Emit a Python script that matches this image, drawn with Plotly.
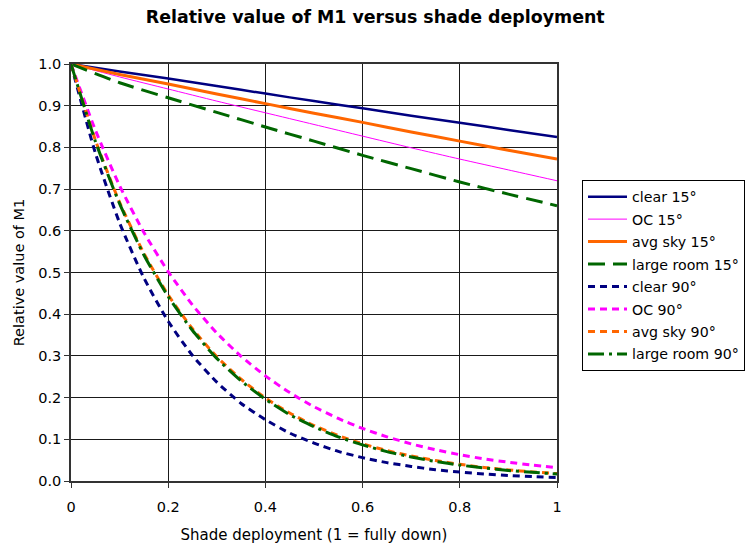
import plotly.graph_objects as go

# Shade deployment fractions
x_coarse = [0.0, 0.1, 0.2, 0.3, 0.4, 0.5, 0.6, 0.7, 0.8, 0.9, 1.0]
x_fine = [0.0, 0.05, 0.1, 0.15, 0.2, 0.25, 0.3, 0.35, 0.4, 0.45, 0.5,
          0.55, 0.6, 0.65, 0.7, 0.75, 0.8, 0.85, 0.9, 0.95, 1.0]

# 15 degree shades
clear_15 = [1.0, 0.982, 0.965, 0.947, 0.929, 0.911, 0.894, 0.876, 0.859, 0.842, 0.825]
oc_15 = [1.0, 0.969, 0.940, 0.911, 0.883, 0.855, 0.827, 0.799, 0.772, 0.746, 0.720]
avg_15 = [1.0, 0.975, 0.952, 0.928, 0.905, 0.882, 0.860, 0.837, 0.815, 0.793, 0.772]
large_15 = [1.0, 0.955, 0.919, 0.884, 0.849, 0.815, 0.781, 0.749, 0.717, 0.688, 0.660]

# 90 degree shades
clear_90 = [1.0, 0.787, 0.619, 0.487, 0.383, 0.301, 0.237, 0.186, 0.147, 0.115, 0.091,
            0.071, 0.056, 0.044, 0.035, 0.027, 0.0215, 0.017, 0.0133, 0.0105, 0.0082]
oc_90 = [1.0, 0.842, 0.708, 0.596, 0.502, 0.422, 0.355, 0.299, 0.252, 0.212, 0.178,
         0.150, 0.126, 0.106, 0.089, 0.075, 0.063, 0.053, 0.045, 0.038, 0.032]
avg_90 = [1.0, 0.818, 0.668, 0.546, 0.446, 0.365, 0.298, 0.244, 0.199, 0.163, 0.133,
          0.109, 0.089, 0.073, 0.060, 0.049, 0.040, 0.0325, 0.0266, 0.0217, 0.0178]
large_90 = [1.0, 0.815, 0.665, 0.542, 0.442, 0.361, 0.294, 0.240, 0.196, 0.159, 0.130,
            0.106, 0.0865, 0.0705, 0.0575, 0.0469, 0.0382, 0.0312, 0.0254, 0.0207, 0.0169]

NAVY = "#000080"
MAGENTA = "#FF00FF"
ORANGE = "#FF6600"
GREEN = "#006600"
FONT = "DejaVu Sans"

series = [
    ("clear 15°", x_coarse, clear_15, NAVY, 2.5, "solid"),
    ("OC 15°", x_coarse, oc_15, MAGENTA, 1, "solid"),
    ("avg sky 15°", x_coarse, avg_15, ORANGE, 3, "solid"),
    ("large room 15°", x_coarse, large_15, GREEN, 3, "17px,8px"),
    ("clear 90°", x_fine, clear_90, NAVY, 3, "7px,5px"),
    ("OC 90°", x_fine, oc_90, MAGENTA, 3, "7px,5px"),
    ("avg sky 90°", x_fine, avg_90, ORANGE, 3, "7px,5px"),
    ("large room 90°", x_fine, large_90, GREEN, 3, "16px,5px,3px,5px"),
]

fig = go.Figure()
for i, (name, xs, ys, color, width, dash) in enumerate(series):
    fig.add_trace(go.Scatter(
        x=xs, y=ys, mode="lines", name=name, legendgroup=f"g{i}",
        line=dict(color=color, width=width, dash=dash, shape="spline", smoothing=0.6),
    ))

fig.update_layout(
    width=746, height=544,
    margin=dict(l=71, r=189, t=64, b=63, autoexpand=False),
    paper_bgcolor="white", plot_bgcolor="white",
    font=dict(family=FONT, size=14, color="black"),
    title=dict(
        text="<b>Relative value of M1 versus shade deployment</b>",
        x=0.503, xref="container", xanchor="center",
        y=1 - 17 / 544, yref="container", yanchor="middle",
        font=dict(family=FONT, size=17.4, color="black"),
    ),
    legend=dict(
        x=(582 - 71) / 486, xanchor="left", y=0.722, yanchor="top",
        bgcolor="white", bordercolor="black", borderwidth=1,
        font=dict(family=FONT, size=14.2, color="black"),
        tracegroupgap=1, itemwidth=39,
    ),
    showlegend=True,
)

fig.update_xaxes(
    range=[0, 1], tickvals=[0, 0.2, 0.4, 0.6, 0.8, 1.0],
    ticktext=["0", "0.2", "0.4", "0.6", "0.8", "1"],
    showgrid=True, gridcolor="#1a1a1a", gridwidth=1, zeroline=False,
    showline=True, linecolor="#333", linewidth=1.5, mirror=True,
    ticks="outside", ticklen=5, tickcolor="#333", ticklabelstandoff=7,
    tickfont=dict(family=FONT, size=14.5),
    title=dict(text="Shade deployment (1 = fully down)", standoff=18,
               font=dict(family=FONT, size=15)),
)
fig.update_yaxes(
    range=[0, 1], tickvals=[i / 10 for i in range(11)],
    ticktext=[f"{i / 10:.1f}" for i in range(11)],
    showgrid=True, gridcolor="#1a1a1a", gridwidth=1, zeroline=False,
    showline=True, linecolor="#333", linewidth=1.5, mirror=True,
    ticks="outside", ticklen=5, tickcolor="#333",
    tickfont=dict(family=FONT, size=14.5),
    title=dict(text="Relative value of M1", standoff=10,
               font=dict(family=FONT, size=14.5)),
)

fig.write_html("out.html")
